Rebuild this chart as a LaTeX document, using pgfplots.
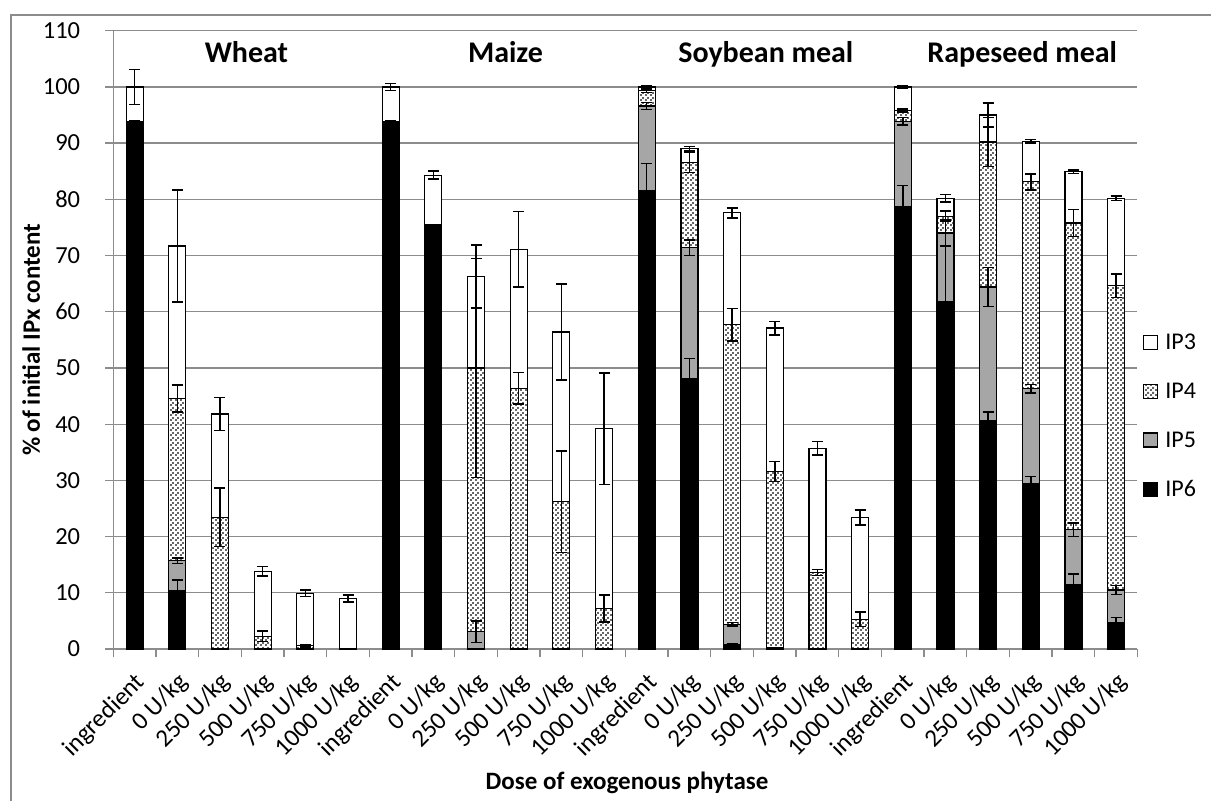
\documentclass[border=0pt]{standalone}
\usepackage{fontspec}
\setmainfont{Carlito}
\usepackage{pgfplots}
\usepackage{pgfplotstable}
\pgfplotsset{compat=1.18}
\usetikzlibrary{patterns}

\pgfdeclarepatternformonly{ipdots}{\pgfpointorigin}{\pgfpoint{5pt}{5pt}}{\pgfpoint{5pt}{5pt}}{%
  \pgfpathrectangle{\pgfpoint{0pt}{0pt}}{\pgfpoint{2.2pt}{2.2pt}}%
  \pgfpathrectangle{\pgfpoint{2.5pt}{2.5pt}}{\pgfpoint{2.2pt}{2.2pt}}%
  \pgfusepath{fill}}

% x: category index; sX: segment height; eX: error
\pgfplotstableread{
x  s6   e6   s5   e5   s4    e4    s3    e3
0  93.9 0    0    0    0     0     6.1   3.1
1  10.4 1.9  5.3  0.5  28.9  2.4   27.1  10.0
2  0    0    0    0    23.4  5.2   18.4  2.9
3  0    0    0    0    2.25  0.95  11.55 0.85
4  0    0    0    0    0.6   0.2   9.3   0.6
5  0    0    0    0    0     0     9.0   0.6
6  93.9 0    0    0    0     0     6.1   0.6
7  75.5 0    0    0    0     0     8.8   0.7
8  0    0    3.1  1.9  46.9  19.5  16.3  5.6
9  0    0    0    0    46.4  2.8   24.7  6.7
10 0    0    0    0    26.2  9.0   30.2  8.5
11 0    0    0    0    7.2   2.4   32.0  9.9
12 81.6 4.8  15.0 0.6  2.7   0.3   0.7   0.2
13 48.1 3.6  23.3 1.4  15.2  1.8   2.4   0.4
14 0.7  0.2  3.7  0.3  53.3  2.9   19.9  0.9
15 0    0    0.2  0    31.4  1.8   25.5  1.2
16 0    0    0    0    13.6  0.5   22.1  1.2
17 0    0    0    0    5.3   1.3   18.1  1.3
18 78.7 3.8  15.2 0.7  1.9   0.3   4.2   0.2
19 61.8 10.0 12.2 2.3  3.0   0.9   3.2   0.7
20 40.7 1.5  23.7 3.5  25.8  4.4   4.8   2.1
21 29.5 1.2  16.8 0.8  36.8  1.4   7.2   0.3
22 11.4 1.9  9.8  1.2  54.6  2.4   9.1   0.3
23 4.7  0.9  5.8  0.8  54.1  2.1   15.6  0.4
}\data

\definecolor{gridgray}{RGB}{140,140,140}
\definecolor{ipfive}{RGB}{166,166,166}

\pgfplotsset{
  common/.style={
    scale only axis, width=1024.2pt, height=618.3pt,
    at={(113.3pt,152pt)}, anchor=south west,
    xmin=-0.5, xmax=23.5, ymin=0, ymax=110,
    ybar stacked, bar width=17pt,
  },
  errplot/.style={draw=none, fill=none,
    error bars/y dir=both, error bars/y explicit,
    error bars/error mark=|,
    error bars/error bar style={draw=black, line width=1.5pt},
    error bars/error mark options={draw=black, mark size=5.5pt, line width=1.5pt}},
}

\begin{document}
\begin{tikzpicture}
\useasboundingbox (0,0) rectangle (1211pt,801pt);
\draw[gridgray, line width=1.2pt] (11pt,0) -- (11pt,786pt) -- (1211pt,786pt);

\begin{axis}[common,
  axis x line*=bottom, axis y line*=left,
  axis line style={gridgray, line width=1.3pt},
  ymajorgrids, grid style={gridgray, line width=1.3pt},
  ytick={0,10,...,110},
  tick align=outside,
  major tick length=8pt, minor tick length=8pt,
  tick style={gridgray, line width=1.3pt},
  xtick={0,...,23},
  every major x tick/.append style={draw=none},
  minor xtick={-0.5,0.5,...,23.5},
  xticklabels={ingredient,0 U/kg,250 U/kg,500 U/kg,750 U/kg,1000 U/kg,
               ingredient,0 U/kg,250 U/kg,500 U/kg,750 U/kg,1000 U/kg,
               ingredient,0 U/kg,250 U/kg,500 U/kg,750 U/kg,1000 U/kg,
               ingredient,0 U/kg,250 U/kg,500 U/kg,750 U/kg,1000 U/kg},
  xticklabel style={xshift=-1pt, yshift=-14pt, rotate=45, anchor=north east, inner sep=0pt,
    font=\fontsize{25}{30}\selectfont},
  yticklabel style={font=\fontsize{24.5}{28}\selectfont, inner sep=2pt, xshift=-23pt},
  /pgf/number format/assume math mode=true,
  ylabel={\textbf{\% of initial IPx content}},
  ylabel style={at={(axis description cs:-0.0801,0.5)}, anchor=center,
    font=\fontsize{25}{30}\selectfont},
  xlabel={\textbf{Dose of exogenous phytase}},
  xlabel style={at={(axis description cs:0.5016,-0.2167)}, anchor=center,
    font=\fontsize{25}{30}\selectfont},
  reverse legend,
  legend style={draw=none, fill=none, at={(1.0054,0.512)}, anchor=north west,
    font=\fontsize{24}{28}\selectfont, inner sep=0pt, row sep=30pt,
    nodes={inner sep=1pt}, cells={anchor=west},
    /tikz/every odd column/.append style={column sep=6pt}},
  legend image code/.code={\draw[#1] (0pt,-7pt) rectangle (14pt,7pt);},
]
\addplot[draw=black, line width=1.2pt, fill=black] table[x=x, y=s6] {\data};
\addplot[draw=black, line width=1.2pt, fill=ipfive] table[x=x, y=s5] {\data};
\addplot[draw=black, line width=1.2pt, fill=white, postaction={pattern=ipdots, pattern color=black!60}] table[x=x, y=s4] {\data};
\addplot[draw=black, line width=1.2pt, fill=white] table[x=x, y=s3] {\data};
\legend{IP6,IP5,IP4,IP3}
\node[font=\bfseries\fontsize{30}{36}\selectfont, anchor=base] at (axis cs:2.62,104.4) {Wheat};
\node[font=\bfseries\fontsize{30}{36}\selectfont, anchor=base] at (axis cs:8.69,104.4) {Maize};
\node[font=\bfseries\fontsize{30}{36}\selectfont, anchor=base] at (axis cs:14.79,104.4) {Soybean meal};
\node[font=\bfseries\fontsize{30}{36}\selectfont, anchor=base] at (axis cs:20.8,104.4) {Rapeseed meal};
\end{axis}

\begin{axis}[common, hide axis]
\addplot[errplot] table[x=x, y=s6, y error=e6] {\data};
\addplot[errplot] table[x=x, y=s5, y error=e5] {\data};
\addplot[errplot] table[x=x, y=s4, y error=e4] {\data};
\addplot[errplot] table[x=x, y=s3, y error=e3] {\data};
\end{axis}
\end{tikzpicture}
\end{document}
